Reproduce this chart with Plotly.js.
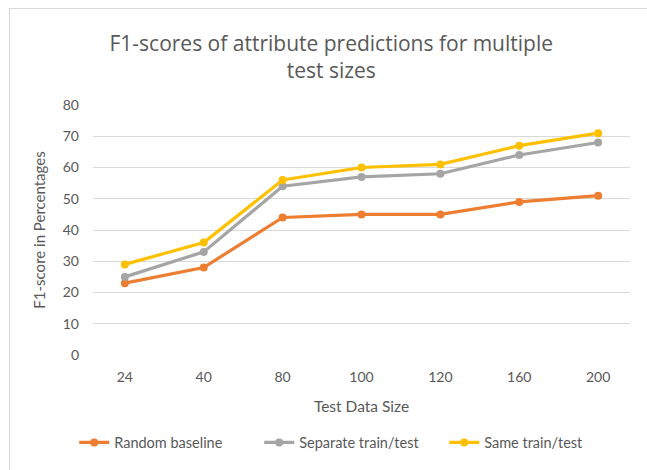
<!DOCTYPE html>
<html>
<head>
<meta charset="utf-8">
<script src="https://cdn.plot.ly/plotly-3.0.1.min.js"></script>
<style>
  html, body { margin: 0; padding: 0; background: #fff; }
  #frame { position: absolute; left: 9px; top: 8px; width: 660px; height: 480px; border: 1px solid #d9d9d9; }
  #chart { position: absolute; left: 0; top: 0; width: 647px; height: 470px; }
</style>
</head>
<body>
<div id="frame"></div>
<div id="chart"></div>
<script>
const categories = ["24", "40", "80", "100", "120", "160", "200"];
const randomBaseline = [23, 28, 44, 45, 45, 49, 51];
const separateTrainTest = [25, 33, 54, 57, 58, 64, 68];
const sameTrainTest = [29, 36, 56, 60, 61, 67, 71];
const seriesNames = ["Random baseline", "Separate train/test", "Same train/test"];
const yTicks = [0, 10, 20, 30, 40, 50, 60, 70, 80];

const colors = ["#ED7D31", "#A5A5A5", "#FFC000"];
const values = [randomBaseline, separateTrainTest, sameTrainTest];

const traces = values.map((v, i) => ({
  x: categories,
  y: v,
  name: seriesNames[i],
  type: "scatter",
  mode: "lines+markers",
  line: { color: colors[i], width: 3.2 },
  marker: { color: colors[i], size: 8 }
}));

const fontFam = "Lato, 'Open Sans', sans-serif";
const layout = {
  width: 647,
  height: 470,
  paper_bgcolor: "rgba(0,0,0,0)",
  plot_bgcolor: "rgba(0,0,0,0)",
  margin: { l: 93, r: 17, t: 105, b: 115 },
  font: { family: fontFam, color: "#595959", size: 14 },
  title: {
    text: "F1-scores of attribute predictions for multiple<br>test sizes",
    font: { family: "'Open Sans', sans-serif", size: 21, color: "#595959" },
    x: 0.512, xanchor: "center",
    y: 0.892, yanchor: "middle"
  },
  xaxis: {
    type: "category",
    showgrid: false,
    zeroline: false,
    showline: false,
    ticks: "",
    ticklabelstandoff: 12,
    tickfont: { size: 14, color: "#595959" },
    title: { text: "Test Data Size", font: { size: 15.5, color: "#595959" }, standoff: 17 }
  },
  yaxis: {
    range: [0, 80],
    tickvals: yTicks,
    showgrid: true,
    gridcolor: "#d9d9d9",
    gridwidth: 1,
    zeroline: false,
    showline: false,
    ticks: "",
    ticklabelstandoff: 13,
    tickfont: { size: 14, color: "#595959" },
    title: { text: "F1-score in Percentages", font: { size: 15, color: "#595959" }, standoff: 13 }
  },
  showlegend: true,
  legend: {
    orientation: "h",
    x: -0.035, xanchor: "left",
    y: -0.35, yanchor: "middle",
    font: { size: 14.5, color: "#595959" },
    itemwidth: 30,
    entrywidth: 140
  }
};

Plotly.newPlot("chart", traces, layout, { displayModeBar: false, staticPlot: true });
</script>
</body>
</html>
